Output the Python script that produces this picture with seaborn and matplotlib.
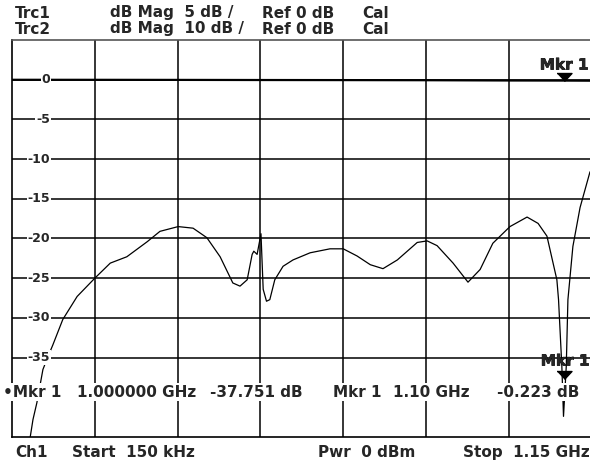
import numpy as np
import pandas as pd
import matplotlib
matplotlib.use("Agg")
import matplotlib.pyplot as plt
import matplotlib.transforms as mtransforms
import matplotlib.patheffects as pe
import seaborn as sns

# Trc1 (5 dB/div) - frequency in GHz, magnitude in dB
trc1_freq = [0.033, 0.038, 0.045, 0.056, 0.065, 0.074, 0.092, 0.118, 0.150, 0.178,
             0.208, 0.245, 0.268, 0.301, 0.328, 0.353, 0.377, 0.400, 0.413, 0.426,
             0.435, 0.438, 0.444, 0.451, 0.455, 0.461, 0.467, 0.476, 0.491, 0.509,
             0.540, 0.576, 0.600, 0.625, 0.649, 0.672, 0.698, 0.734, 0.752, 0.770,
             0.799, 0.826, 0.848, 0.871, 0.902, 0.933, 0.953, 0.969, 0.987, 0.990,
             0.996, 0.999, 1.004, 1.007, 1.016, 1.029, 1.047]
trc1_db = [-45.0, -42.8, -40.7, -36.5, -34.9, -33.4, -30.2, -27.3, -25.0, -23.1,
           -22.3, -20.4, -19.1, -18.5, -18.7, -19.9, -22.3, -25.6, -26.0, -25.2,
           -22.0, -21.6, -22.0, -19.4, -26.4, -27.9, -27.7, -25.2, -23.5, -22.7,
           -21.8, -21.3, -21.3, -22.2, -23.3, -23.8, -22.7, -20.5, -20.3, -20.9,
           -23.1, -25.5, -23.9, -20.6, -18.5, -17.3, -18.1, -19.7, -25.2, -27.7,
           -36.1, -42.4, -36.1, -27.7, -21.0, -16.1, -11.6]

# Trc2 (10 dB/div) - near 0 dB
trc2_freq = [0.0, 0.15, 0.30, 0.45, 0.60, 0.75, 0.90, 1.00, 1.047]
trc2_db = [-0.02, -0.03, -0.05, -0.08, -0.10, -0.13, -0.20, -0.223, -0.25]

mkr_freq = 1.0
mkr1_db = -37.751
mkr2_db = -0.223

W, H = 590, 461
sns.set_style("white")
plt.rcParams['font.family'] = ['DejaVu Sans']

fig = plt.figure(figsize=(W / 100, H / 100), dpi=100)
ax = fig.add_axes([12 / W, (H - 437) / H, 578 / W, 397 / H])

df1 = pd.DataFrame({'f': trc1_freq, 'db': trc1_db})
# trc2 is drawn on the 5 dB/div grid, so halve it
df2 = pd.DataFrame({'f': trc2_freq, 'db': np.array(trc2_db) / 2})

ax.set_xlim(0, 1.047)
ax.set_ylim(-45, 5)
ax.set_xticks(np.arange(0.15, 1.0, 0.15))
ax.set_yticks(np.arange(-35, 5, 5))
ax.grid(True, color='black', lw=1.1)
ax.tick_params(left=False, bottom=False, labelleft=False, labelbottom=False)
for s in ['left', 'bottom']:
    ax.spines[s].set_color('black')
    ax.spines[s].set_linewidth(1.2)
ax.spines['top'].set_color('#555555')
ax.spines['top'].set_linewidth(1.2)
ax.spines['right'].set_visible(False)

sns.lineplot(data=df2, x='f', y='db', ax=ax, color='black', lw=1.6, sort=False)
sns.lineplot(data=df1, x='f', y='db', ax=ax, color='black', lw=0.9, sort=False)
ax.set_xlabel('')
ax.set_ylabel('')

# marker triangles (apex on the trace)
tri = [(-7.5, 8), (7.5, 8), (0, 0)]
ax.plot([mkr_freq], [mkr2_db / 2], marker=tri, ms=11.5, color='black', zorder=5)
ax.plot([mkr_freq], [mkr1_db], marker=tri, ms=11.5, color='black', zorder=5)

fs = 11
# y labels inside the plot
tr = mtransforms.blended_transform_factory(ax.transAxes, ax.transData)
for v in range(0, -40, -5):
    ax.text(38 / 578, v, str(v), transform=tr, ha='right', va='center',
            fontsize=9, fontweight='bold',
            bbox=dict(facecolor='white', edgecolor='none', pad=0.5), zorder=4)

def ftext(x, y, s, **kw):
    kw.setdefault('fontweight', 'bold')
    fig.text(x / W, 1 - y / H, s, va='center', fontsize=fs, **kw)

ftext(15, 13, 'Trc1')
ftext(110, 13, 'dB Mag  5 dB /')
ftext(262, 13, 'Ref 0 dB')
ftext(362, 13, 'Cal')
ftext(15, 29, 'Trc2')
ftext(110, 29, 'dB Mag  10 dB /')
ftext(262, 29, 'Ref 0 dB')
ftext(362, 29, 'Cal')

ftext(15, 452, 'Ch1')
ftext(72, 452, 'Start  150 kHz')
ftext(318, 452, 'Pwr  0 dBm')
ftext(463, 452, 'Stop  1.15 GHz')

heavy = [pe.withStroke(linewidth=0.5, foreground='black')]
ftext(564, 65, 'Mkr 1', ha='center', path_effects=heavy)
ftext(565, 361, 'Mkr 1', ha='center', path_effects=heavy)

box = dict(facecolor='white', edgecolor='none', pad=1)
ftext(3, 392, '\u2022Mkr 1', bbox=box)
ftext(77, 392, '1.000000 GHz', bbox=box)
ftext(210, 392, '-37.751 dB', bbox=box)
ftext(333, 392, 'Mkr 1', bbox=box)
ftext(393, 392, '1.10 GHz', bbox=box)
ftext(497, 392, '-0.223 dB', bbox=box)

fig.savefig('out.png', dpi=100)
